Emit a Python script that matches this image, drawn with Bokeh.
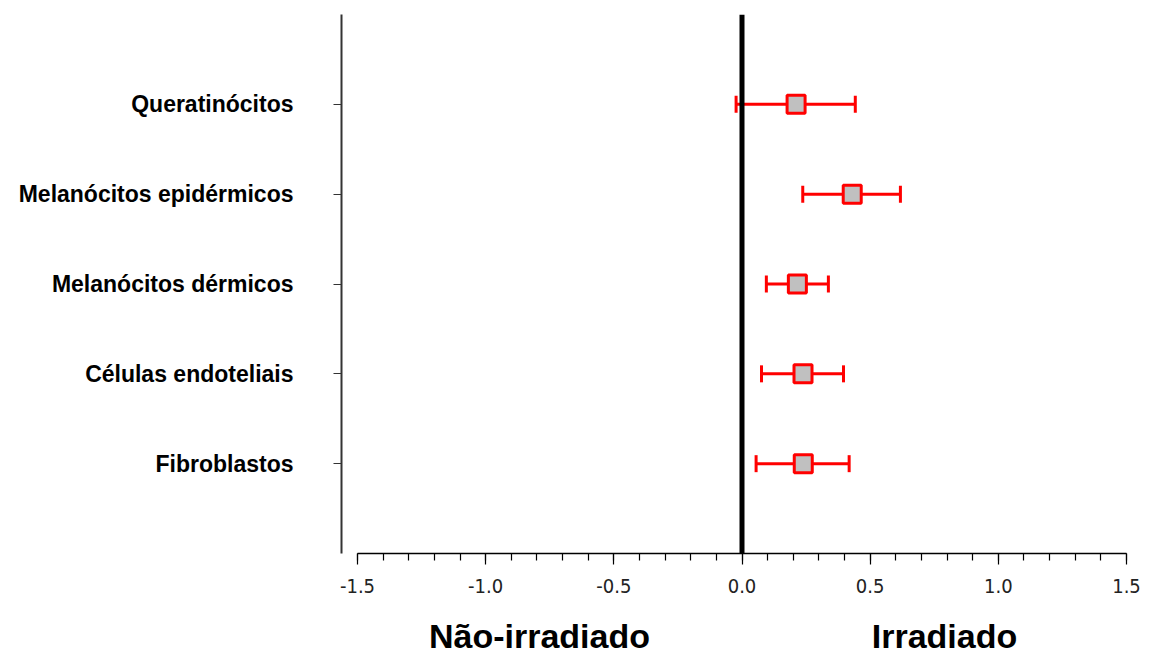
import numpy as np
from bokeh.plotting import figure
from bokeh.models import (Range1d, FixedTicker, LinearAxis, Span, ColumnDataSource)
from bokeh.embed import file_html
from bokeh.resources import INLINE

# ---- data ----
categories = ["Queratinócitos", "Melanócitos epidérmicos", "Melanócitos dérmicos",
              "Células endoteliais", "Fibroblastos"]
positions = [1, 2, 3, 4, 5]
estimate = [0.211, 0.430, 0.216, 0.238, 0.239]
lower = [-0.023, 0.237, 0.095, 0.076, 0.055]
upper = [0.442, 0.618, 0.337, 0.396, 0.418]
x_ticks = [-1.5, -1.0, -0.5, 0.0, 0.5, 1.0, 1.5]
x_tick_labels = ["-1.5", "-1.0", "-0.5", "0.0", "0.5", "1.0", "1.5"]
x_minor_ticks = [round(-1.5 + 0.1 * i, 1) for i in range(31)]
side_labels = ["Não-irradiado", "Irradiado"]
side_label_x = [-0.79, 0.79]

src = ColumnDataSource(dict(y=positions, est=estimate, lo=lower, hi=upper))

RED = "#FF0000"

p = figure(width=1145, height=659, output_backend="svg", toolbar_location=None,
           x_range=Range1d(-1.5624, 1.5624), y_range=Range1d(6, 0),
           x_axis_location=None, y_axis_location=None,
           min_border_left=341, min_border_right=3, min_border_top=14, min_border_bottom=106)
p.outline_line_color = None
p.xgrid.visible = False
p.ygrid.visible = False
p.background_fill_color = "white"
p.border_fill_color = "white"

# x axis
xa = LinearAxis(bounds=(-1.5, 1.5))
xa.ticker = FixedTicker(ticks=x_ticks, minor_ticks=x_minor_ticks)
xa.major_label_overrides = {t: l for t, l in zip(x_ticks, x_tick_labels)}
xa.major_tick_in = 0
xa.major_tick_out = 11
xa.minor_tick_in = 0
xa.minor_tick_out = 7
xa.axis_line_width = 1.5
xa.axis_line_color = "black"
xa.major_tick_line_color = "black"
xa.minor_tick_line_color = "black"
xa.major_tick_line_width = 1.2
xa.minor_tick_line_width = 1.2
xa.major_label_standoff = 14
xa.major_label_text_font = "DejaVu Sans Condensed, Liberation Sans"
xa.major_label_text_font_size = "20px"
xa.major_label_text_color = "#222222"
p.add_layout(xa, "below")

# side labels as a second (line-less) axis below
sa = LinearAxis()
sa.ticker = FixedTicker(ticks=side_label_x, minor_ticks=[])
sa.major_label_overrides = {t: l for t, l in zip(side_label_x, side_labels)}
sa.axis_line_color = None
sa.major_tick_line_color = None
sa.major_tick_in = 0
sa.major_tick_out = 0
sa.major_label_standoff = 21
sa.major_label_text_font = "Liberation Sans"
sa.major_label_text_font_style = "bold"
sa.major_label_text_font_size = "34px"
sa.major_label_text_color = "black"
p.add_layout(sa, "below")

# y axis
ya = LinearAxis()
ya.ticker = FixedTicker(ticks=positions, minor_ticks=[])
ya.major_label_overrides = {t: l for t, l in zip(positions, categories)}
ya.major_tick_in = 0
ya.major_tick_out = 8
ya.axis_line_width = 2
ya.axis_line_color = "#333333"
ya.major_tick_line_color = "#333333"
ya.major_tick_line_width = 1.2
ya.major_label_standoff = 40
ya.major_label_text_font = "Liberation Sans"
ya.major_label_text_font_style = "bold"
ya.major_label_text_font_size = "23px"
ya.major_label_text_color = "black"
p.add_layout(ya, "left")

# zero line
p.add_layout(Span(location=0, dimension="height", line_color="black", line_width=5))

# error bars
p.segment(x0="lo", y0="y", x1="hi", y1="y", source=src, line_color=RED, line_width=3)
p.scatter(x="lo", y="y", source=src, marker="dash", angle=np.pi / 2, size=17,
          line_color=RED, line_width=3)
p.scatter(x="hi", y="y", source=src, marker="dash", angle=np.pi / 2, size=17,
          line_color=RED, line_width=3)
# point estimates
p.scatter(x="est", y="y", source=src, marker="square", size=18,
          fill_color="#C0C0C0", line_color=RED, line_width=3)

open("out.html", "w").write(file_html(p, INLINE))
